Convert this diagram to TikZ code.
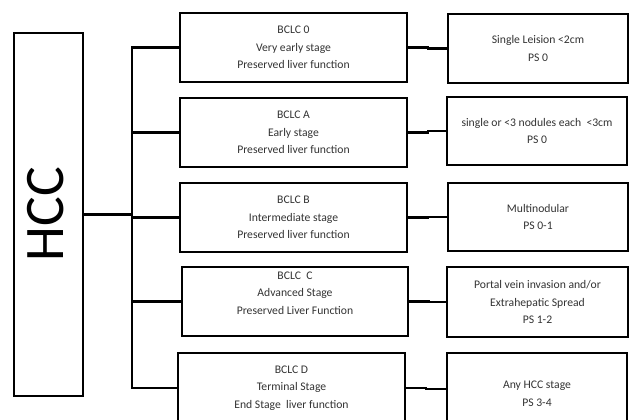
\documentclass[tikz,border=0pt]{standalone}
\usepackage{fontspec}
\setmainfont{Carlito}
\begin{document}
\begin{tikzpicture}[x=1bp,y=-1bp,
  box/.style={draw=black,line width=2.6bp,align=center,inner sep=0pt,
    text=black!80,font=\fontsize{11.7}{17.5}\selectfont},
  midbox/.style={box,minimum width=227bp,minimum height=69bp},
  rbox/.style={box,minimum width=180bp,minimum height=69bp},
  conn/.style={draw=black,line width=2.2bp,line join=miter}]
\useasboundingbox (0,0) rectangle (630,419);
\clip (0,0) rectangle (630,419);
\fill[white] (0,0) rectangle (630,419);
% HCC
\node[draw=black,line width=2.6bp,minimum width=69bp,minimum height=363bp,inner sep=0pt] (h) at (48.5,214.5) {};
\node[rotate=90,font=\fontsize{56}{60}\selectfont,inner sep=0pt] (ht) at (46,214) {HCC};
% middle boxes
\node[midbox] (m0) at (293.5,47.5) {BCLC 0\\Very early stage\\Preserved liver function};
\node[midbox] (mA) at (293.5,132.5) {BCLC A\\Early stage\\Preserved liver function};
\node[midbox] (mB) at (293.5,217.5) {BCLC B\\Intermediate stage\\Preserved liver function};
\node[midbox,minimum width=226bp] (mC) at (295,301.5) {BCLC\ \ C\\Advanced Stage\\Preserved Liver Function\\\mbox{}};
\node[midbox,minimum height=70bp] (mD) at (291.5,388) {BCLC D\\Terminal Stage\\End Stage\ \ liver function};
% right boxes
\node[rbox] (r0) at (538,48.5) {Single Leision {<}2cm\\PS 0};
\node[rbox,minimum height=68bp] (rA) at (537,131) {single or {<}3 nodules each\ \ {<}3cm\\PS 0};
\node[rbox,minimum height=68bp] (rB) at (538,217) {Multinodular\\PS 0-1};
\node[rbox,minimum width=181bp,minimum height=70bp] (rC) at (537.5,302) {Portal vein invasion and/or\\Extrahepatic Spread\\PS 1-2};
\node[rbox,minimum height=72bp] (rD) at (537,389) {\mbox{}\\Any HCC stage\\PS 3-4};
% connectors
\coordinate (bus) at (132,0);
\draw[conn] (h.east) -- (h.east -| bus);
\draw[conn] (m0.west) -| (bus |- mD.west) -- (mD.west);
\foreach \n in {mA,mB,mC} \draw[conn] (bus |- \n.west) -- (\n.west);
\draw[conn] (m0.east) -- ++(20,0) |- (r0.west);
\draw[conn] (mA.east) -- ++(20,0) |- (rA.west);
\draw[conn] (mB.east) -- ++(20,0) |- (rB.west);
\draw[conn] (mC.east) -- ++(20,0) |- (rC.west);
\draw[conn] (mD.east) -- ++(20,0) |- (rD.west);
\end{tikzpicture}
\end{document}
